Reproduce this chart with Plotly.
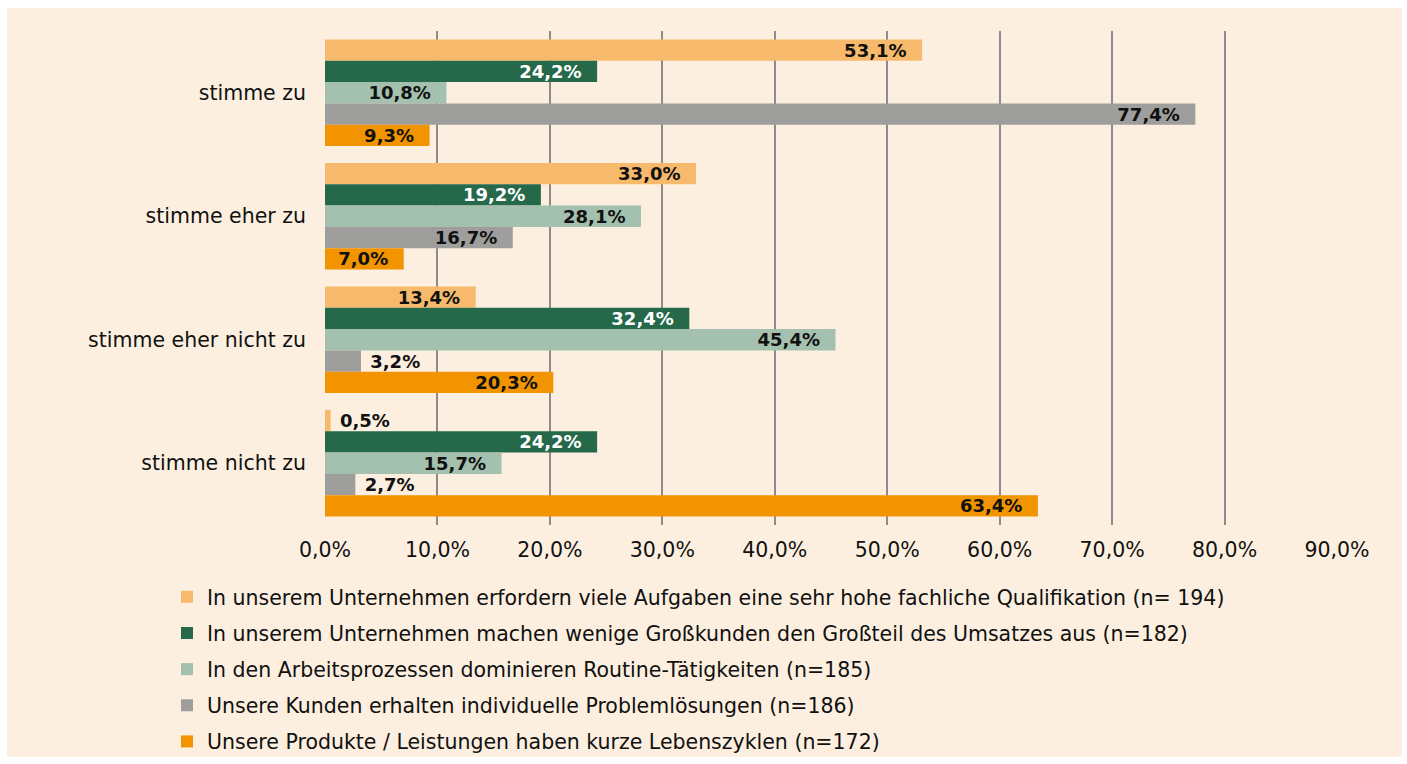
import plotly.graph_objects as go

categories = ["stimme zu", "stimme eher zu", "stimme eher nicht zu", "stimme nicht zu"]

series_names = [
    "In unserem Unternehmen erfordern viele Aufgaben eine sehr hohe fachliche Qualifikation (n= 194)",
    "In unserem Unternehmen machen wenige Großkunden den Großteil des Umsatzes aus (n=182)",
    "In den Arbeitsprozessen dominieren Routine-Tätigkeiten (n=185)",
    "Unsere Kunden erhalten individuelle Problemlösungen (n=186)",
    "Unsere Produkte / Leistungen haben kurze Lebenszyklen (n=172)",
]

qualifikation = [53.1, 33.0, 13.4, 0.5]
grosskunden = [24.2, 19.2, 32.4, 24.2]
routine = [10.8, 28.1, 45.4, 15.7]
problemloesungen = [77.4, 16.7, 3.2, 2.7]
lebenszyklen = [9.3, 7.0, 20.3, 63.4]

values = [qualifikation, grosskunden, routine, problemloesungen, lebenszyklen]
colors = ["#F7BA6C", "#25694A", "#A3C1AE", "#9E9E9D", "#F29400"]
text_colors = ["#111111", "#FFFFFF", "#111111", "#111111", "#111111"]

tick_vals = [0, 10, 20, 30, 40, 50, 60, 70, 80, 90]
tick_text = ["0,0%", "10,0%", "20,0%", "30,0%", "40,0%", "50,0%", "60,0%", "70,0%", "80,0%", "90,0%"]

FONT = "DejaVu Sans"
FS = 20.5
BG = "#FCEFDF"
NB = "\u00a0"

fig = go.Figure()
for name, vals, col, tcol in zip(series_names, values, colors, text_colors):
    positions = ["inside" if v >= 6 else "outside" for v in vals]
    templates = ["%{x:.1f}%" + NB + NB if v >= 6 else NB + "%{x:.1f}%" for v in vals]
    fig.add_trace(go.Bar(
        y=categories, x=vals, name=name, orientation="h",
        marker=dict(color=col, line=dict(width=0)),
        texttemplate=templates,
        textposition=positions,
        insidetextanchor="end",
        constraintext="none",
        cliponaxis=False,
        textfont=dict(family=FONT, size=18, color=tcol, weight="bold"),
        outsidetextfont=dict(family=FONT, size=18, color="#111111", weight="bold"),
        legendgroup=name,
        hoverinfo="skip",
    ))

L, R, T, B = 325, 70, 31, 239
W, H = 1407, 764
pw, ph = W - L - R, H - T - B
fig.add_shape(type="rect", xref="paper", yref="paper",
              x0=(7 - L) / pw, x1=(1402 - L) / pw,
              y0=((H - B) - 757) / ph, y1=((H - B) - 8) / ph,
              fillcolor=BG, line=dict(width=0), layer="below")

fig.update_layout(
    width=W, height=H,
    margin=dict(l=L, r=R, t=T, b=B, autoexpand=False),
    paper_bgcolor="white",
    plot_bgcolor="rgba(0,0,0,0)",
    barmode="group",
    bargap=0.137,
    bargroupgap=0,
    separators=",.",
    font=dict(family=FONT, size=FS, color="#111111"),
    showlegend=True,
    legend=dict(
        orientation="v",
        x=(167 - L) / pw, xanchor="left",
        y=((H - B) - 577) / ph, yanchor="top",
        traceorder="grouped",
        tracegroupgap=6.5,
        font=dict(family=FONT, size=FS, color="#111111"),
        bgcolor="rgba(0,0,0,0)",
    ),
    xaxis=dict(
        range=[0, 90],
        tickmode="array",
        tickvals=tick_vals,
        ticktext=tick_text,
        showgrid=True,
        gridcolor="#8C8C8C",
        gridwidth=2,
        zeroline=False,
        showline=False,
        ticks="",
        ticklabelstandoff=10,
        automargin=False,
        tickfont=dict(family=FONT, size=FS, color="#111111"),
        fixedrange=True,
    ),
    yaxis=dict(
        autorange="reversed",
        showgrid=False,
        zeroline=False,
        showline=False,
        ticks="",
        ticklabelstandoff=18,
        automargin=False,
        tickfont=dict(family=FONT, size=FS, color="#111111"),
        fixedrange=True,
    ),
)

fig.write_html("out.html")
